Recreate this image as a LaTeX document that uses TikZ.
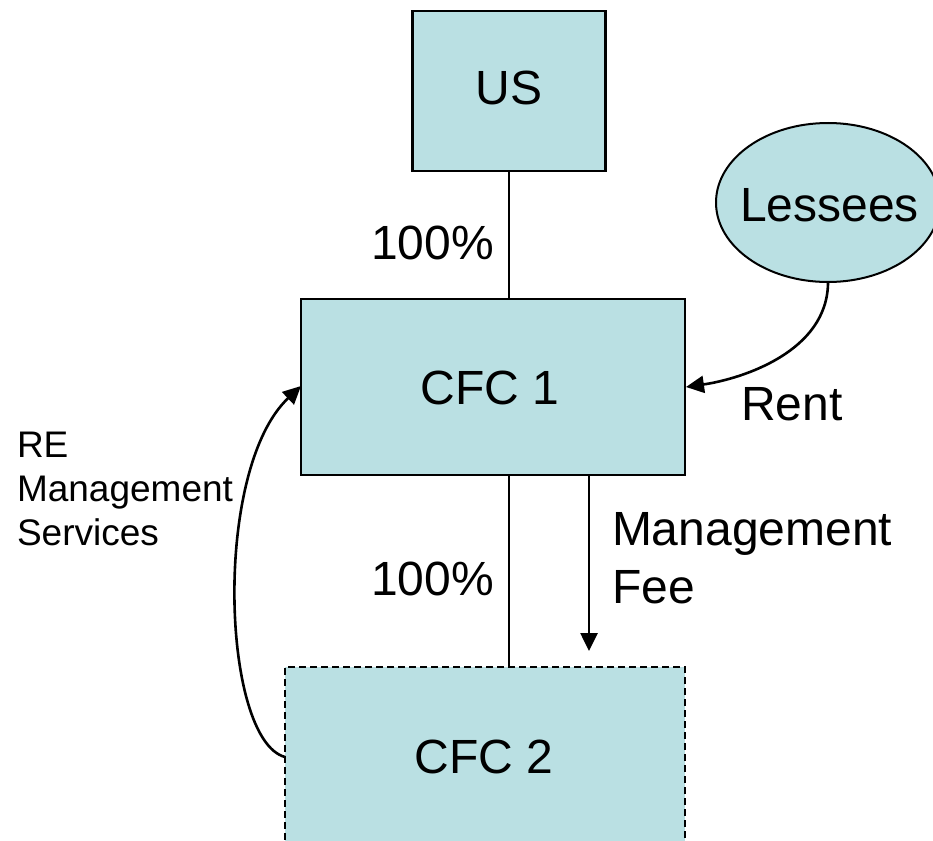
\documentclass[tikz,border=0pt]{standalone}
\usepackage{fontspec}
\setmainfont{Liberation Sans}
\usetikzlibrary{arrows.meta,shapes.geometric}
\definecolor{boxfill}{RGB}{186,224,227}
\tikzset{
  ent/.style={draw=black, line width=2.6pt, fill=boxfill, inner sep=0pt, outer sep=0pt},
  big/.style={font=\fontsize{48pt}{58pt}\selectfont, inner sep=0pt, outer sep=0pt},
  small/.style={font=\fontsize{37pt}{44pt}\selectfont, inner sep=0pt, outer sep=0pt},
  conn/.style={line width=2.6pt},
  arr/.style={line width=2.6pt, -{Triangle[length=18pt,width=17pt]}}
}
\begin{document}
\begin{tikzpicture}[x=1pt,y=-1pt]
\useasboundingbox (0,0) rectangle (933,840);
% boxes
\node[ent, minimum width=193pt, minimum height=160pt] (us) at (509,91) {};
\node[ent, minimum width=384pt, minimum height=176pt] (c1) at (493,387) {};
\node[ent, dash pattern=on 7pt off 4pt, line width=1.8pt, minimum width=400pt, minimum height=200pt, anchor=north west] (c2) at (285,667) {};
\node[ent, ellipse, line width=2pt, minimum width=224pt, minimum height=159pt] (les) at (828,202.5) {};
% texts
\node[big, anchor=base] (tus) at (509,104) {US};
\node[big, anchor=base] (tc1) at (490,404) {CFC 1};
\node[big, anchor=base] (tc2) at (484,773) {CFC 2};
\node[big, anchor=base west] (tles) at (740,221) {Lessees};
\node[big, anchor=base west] (p1) at (371,259) {100\%};
\node[big, anchor=base west] (p2) at (371,595) {100\%};
\node[big, anchor=base west] (rent) at (741,420) {Rent};
\node[big, anchor=base west] (mf1) at (612,545) {Management};
\node[big, anchor=base west] (mf2) at (612,603) {Fee};
\node[small, anchor=base west] (re1) at (17,457) {RE};
\node[small, anchor=base west] (re2) at (17,501) {Management};
\node[small, anchor=base west] (re3) at (17,545) {Services};
% connectors
\draw[conn] (us.south) -- (us.south |- c1.north);
\coordinate (own2) at (509,474);
\draw[conn] (own2) -- (own2 |- c2.north);
\coordinate (mfs) at (589,474);
\coordinate (mfe) at (589,651);
\draw[arr] (mfs) -- (mfe);
\coordinate (rentend) at (686,387);
\draw[arr] (les.south) .. controls +(0,70) and +(55,-8) .. (rentend);
\coordinate (c2w) at (285,757);
\coordinate (c1w) at (301,386);
\draw[arr] (c2w) .. controls (222,740) and (212,470) .. (c1w);
\end{tikzpicture}
\end{document}
